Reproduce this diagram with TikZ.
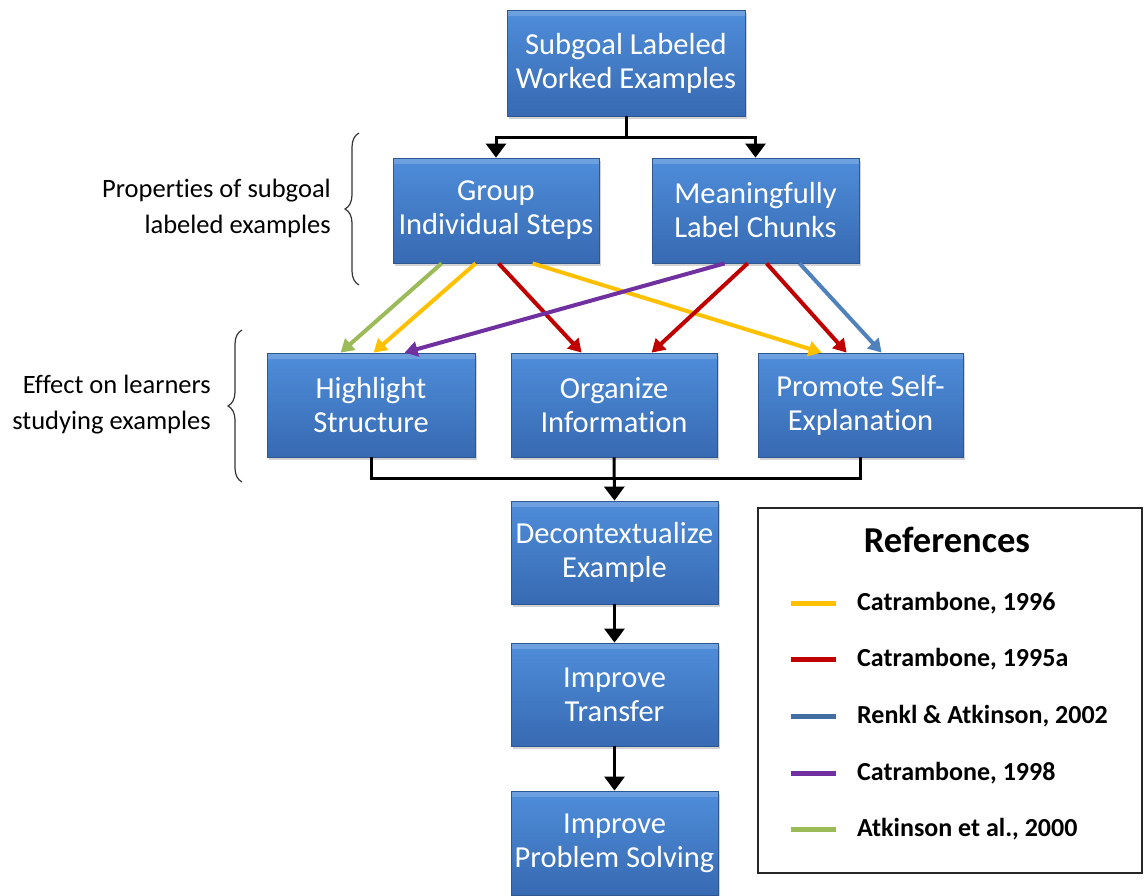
\documentclass[tikz,border=0pt]{standalone}
\usepackage{fontspec}
\setmainfont{Carlito}[Ligatures=NoCommon]
\usetikzlibrary{arrows.meta,shadows,decorations.pathreplacing,calc}
\definecolor{cyel}{RGB}{255,192,0}
\definecolor{cred}{RGB}{192,0,0}
\definecolor{cblu}{RGB}{79,129,189}
\definecolor{cpur}{RGB}{112,48,160}
\definecolor{cgrn}{RGB}{155,187,89}
\definecolor{boxtop}{RGB}{79,141,218}
\definecolor{boxbot}{RGB}{55,106,178}
\definecolor{boxedge}{RGB}{46,86,145}
\tikzset{
  bluebox/.style={rectangle, inner sep=0pt, top color=boxtop, bottom color=boxbot,
    draw=boxedge, line width=0.8pt, text=white, align=center,
    font=\fontsize{30.5}{34}\selectfont,
    path picture={\fill[white,opacity=0.18] (path picture bounding box.north west) rectangle ([yshift=-6pt]path picture bounding box.north east);},
    drop shadow={shadow xshift=2pt, shadow yshift=-3pt, opacity=0.35}},
  blk/.style={line width=3pt, black},
  blkarrow/.style={blk, -{Triangle[width=20pt,length=14pt]}},
  carrow/.style={line width=4pt, -{Triangle[width=15pt,length=13pt]}},
  sidelabel/.style={anchor=east, align=right, inner sep=0pt, font=\fontsize{26.5}{36}\selectfont},
  legtext/.style={anchor=west, inner sep=0pt, font=\fontsize{26}{28}\selectfont\bfseries},
  swatch/.style={line width=5pt},
  bracestyle/.style={decorate, decoration={brace, amplitude=14pt}, line width=1.2pt, black!80}
}
\begin{document}
\begin{tikzpicture}[x=1pt,y=-1pt]
\useasboundingbox (0,0) rectangle (1144,895);
% boxes
\node[bluebox, minimum width=238pt, minimum height=106pt] (top) at (626,63) {Subgoal Labeled\\Worked Examples};
\node[bluebox, minimum width=206pt, minimum height=105pt] (g) at (496,210.5) {Group\\Individual Steps};
\node[bluebox, minimum width=207pt, minimum height=105pt] (m) at (755.5,210.5) {Meaningfully\\Label Chunks};
\node[bluebox, minimum width=208pt, minimum height=104pt] (h) at (371,405) {Highlight\\Structure};
\node[bluebox, minimum width=206pt, minimum height=104pt] (o) at (614,405) {Organize\\Information};
\node[bluebox, minimum width=205pt, minimum height=104pt] (p) at (860.5,405) {Promote Self-\\Explanation};
\node[bluebox, minimum width=207pt, minimum height=103pt] (d) at (614.5,552.5) {Decontextualize\\Example};
\node[bluebox, minimum width=207pt, minimum height=103pt] (t) at (614.5,694.5) {Improve\\Transfer};
\node[bluebox, minimum width=207pt, minimum height=104pt] (s) at (614.5,843) {Improve\\Problem Solving};
% black connectors
\coordinate (j1) at (626,137);
\draw[blk] (top.south) -- (j1);
\draw[blkarrow] (j1) -| (g.north);
\draw[blkarrow] (j1) -| (m.north);
\coordinate (j2) at (614,478);
\draw[blk] (h.south) -- (h.south |- j2) -- (p.south |- j2) -- (p.south);
\draw[blkarrow] (o.south) -- (d.north);
\draw[blkarrow] (d.south) -- (t.north);
\draw[blkarrow] (t.south) -- (s.north);
% coloured connectors
\draw[carrow, cgrn] ([xshift=49pt]g.south west) -- ([xshift=74pt]h.north west);
\draw[carrow, cyel] ([xshift=83pt]g.south west) -- ([xshift=107pt]h.north west);
\draw[carrow, cred] ([xshift=106pt]g.south west) -- ([xshift=71pt]o.north west);
\draw[carrow, cyel] ([xshift=140pt]g.south west) -- ([xshift=64pt]p.north west);
\draw[carrow, cpur] ([xshift=73pt]m.south west) -- ([xshift=138pt]h.north west);
\draw[carrow, cred] ([xshift=96pt]m.south west) -- ([xshift=141pt]o.north west);
\draw[carrow, cred] ([xshift=115pt]m.south west) -- ([xshift=89pt]p.north west);
\draw[carrow, cblu] ([xshift=148pt]m.south west) -- ([xshift=124pt]p.north west);
% braces and side labels
\coordinate (b1a) at (359,285); \coordinate (b1b) at (359,133);
\draw[bracestyle] (b1a) -- (b1b);
\coordinate (b2a) at (242,482); \coordinate (b2b) at (242,330);
\draw[bracestyle] (b2a) -- (b2b);
\node[sidelabel] (l1) at (331,208) {Properties of subgoal\\labeled examples};
\node[sidelabel] (l2) at (211,405) {Effect on learners\\studying examples};
% legend
\node[draw=black!85, line width=1.5pt, minimum width=384pt, minimum height=365pt, inner sep=0pt] (leg) at (950,690.5) {};
\node[font=\fontsize{36.5}{40}\selectfont\bfseries, inner sep=0pt] (legtitle) at (947,540) {References};
\draw[swatch, cyel] (791,603) -- (836,603);
\draw[swatch, cred] (791,659) -- (836,659);
\draw[swatch, cblu!85!black] (791,716) -- (836,716);
\draw[swatch, cpur] (791,773) -- (836,773);
\draw[swatch, cgrn] (791,829) -- (836,829);
\node[legtext] (r1) at (857,603) {Catrambone, 1996};
\node[legtext] (r2) at (857,659) {Catrambone, 1995a};
\node[legtext] (r3) at (857,716) {Renkl \& Atkinson, 2002};
\node[legtext] (r4) at (857,773) {Catrambone, 1998};
\node[legtext] (r5) at (857,829) {Atkinson et al., 2000};
\end{tikzpicture}
\end{document}
